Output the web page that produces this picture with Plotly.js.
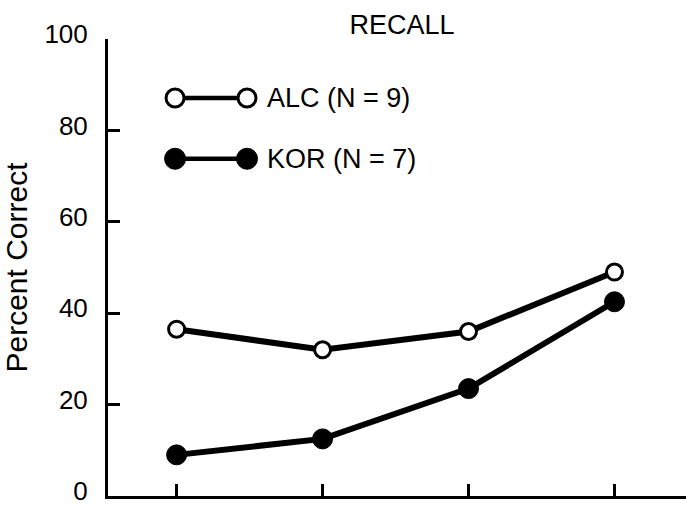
<!DOCTYPE html>
<html>
<head>
<meta charset="utf-8">
<script src="https://cdn.plot.ly/plotly-3.0.1.min.js"></script>
<style>html,body{margin:0;padding:0;background:#fff;}</style>
</head>
<body>
<div id="chart" style="width:686px;height:508px;"></div>
<script>
// Data
const conditions = [1, 2, 3, 4];
const alcValues = [36.5, 32, 36, 49];
const korValues = [9, 12.5, 23.5, 42.5];
const seriesNames = ['ALC (N = 9)', 'KOR (N = 7)'];
const yTicks = [0, 20, 40, 60, 80, 100];

const FONT = 'Liberation Sans, Arial, Helvetica, sans-serif';

const traces = [
  {
    x: conditions, y: alcValues, name: seriesNames[0], type: 'scatter', mode: 'lines+markers',
    line: {color: '#000', width: 6},
    marker: {size: 16, color: '#fff', line: {color: '#000', width: 3}},
    cliponaxis: false, showlegend: false
  },
  {
    x: conditions, y: korValues, name: seriesNames[1], type: 'scatter', mode: 'lines+markers',
    line: {color: '#000', width: 6},
    marker: {size: 20, color: '#000', line: {color: '#000', width: 1}},
    cliponaxis: false, showlegend: false
  }
];

// Legend drawn as decorations (paper coordinates)
const legRows = [
  {y: 0.871, fill: '#fff', size: 9, lw: 3, text: seriesNames[0]},
  {y: 0.738, fill: '#000', size: 10.5, lw: 1, text: seriesNames[1]}
];
const legX0 = 0.116, legX1 = 0.2405, legText = 0.272;
const shapes = [];
const annotations = [];
legRows.forEach(r => {
  shapes.push({type: 'line', xref: 'paper', yref: 'paper', x0: legX0, x1: legX1, y0: r.y, y1: r.y,
    line: {color: '#000', width: 4.5}, layer: 'above'});
  [legX0, legX1].forEach(cx => {
    shapes.push({type: 'circle', xref: 'paper', yref: 'paper', xsizemode: 'pixel', ysizemode: 'pixel',
      xanchor: cx, yanchor: r.y, x0: -r.size, x1: r.size, y0: -r.size, y1: r.size,
      fillcolor: r.fill, line: {color: '#000', width: r.lw}, layer: 'above'});
  });
  annotations.push({xref: 'paper', yref: 'paper', x: legText, y: r.y, xanchor: 'left', yanchor: 'middle',
    text: r.text, showarrow: false, font: {family: FONT, size: 27, color: '#000'}});
});

const layout = {
  width: 686, height: 508,
  margin: {l: 108, r: 0, t: 39, b: 12, pad: 0},
  paper_bgcolor: '#fff', plot_bgcolor: '#fff',
  font: {family: FONT, color: '#000'},
  title: {text: 'RECALL', xref: 'container', yref: 'container', x: 402/686, xanchor: 'center',
    y: 1 - 25/508, yanchor: 'middle', font: {family: FONT, size: 27, color: '#000'}},
  xaxis: {
    range: [0.53, 4.49], tickvals: conditions, showticklabels: false,
    ticks: 'inside', ticklen: 12, tickwidth: 3, tickcolor: '#000',
    showline: true, linewidth: 3, linecolor: '#000', showgrid: false, zeroline: false, fixedrange: true
  },
  yaxis: {
    range: [0, 100], tickvals: yTicks,
    ticks: 'inside', ticklen: 12, tickwidth: 3, tickcolor: '#000',
    showline: true, linewidth: 3, linecolor: '#000', showgrid: false, zeroline: false,
    tickfont: {family: FONT, size: 26, color: '#000'}, ticklabelstandoff: 12,
    ticklabelshift: -5, ticklabeloverflow: 'allow',
    title: {text: 'Percent Correct', font: {family: FONT, size: 30, color: '#000'}, standoff: 10},
    automargin: false, fixedrange: true
  },
  shapes: shapes,
  annotations: annotations,
  showlegend: false
};

Plotly.newPlot('chart', traces, layout, {displayModeBar: false, staticPlot: true});
</script>
</body>
</html>
